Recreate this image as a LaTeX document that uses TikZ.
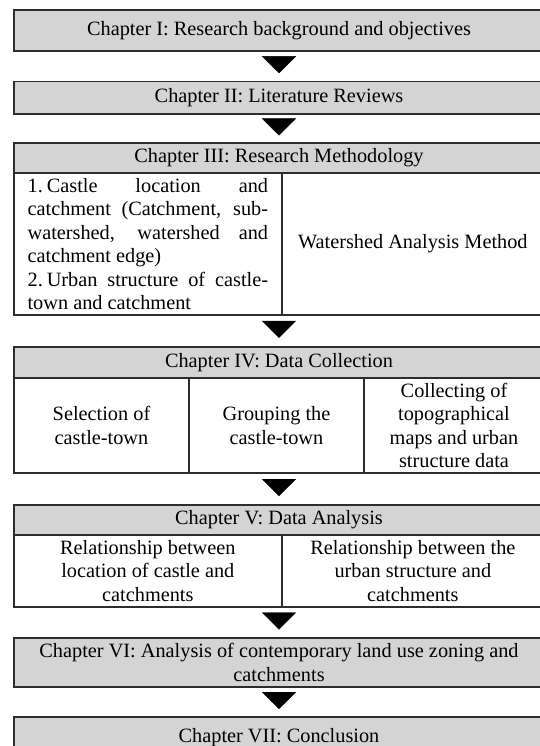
\documentclass[tikz,border=0pt]{standalone}
\usepackage{fontspec}
\setmainfont{Liberation Serif}
\usetikzlibrary{arrows.meta,decorations.markings}
\definecolor{headgray}{RGB}{212,212,212}
\definecolor{rulegray}{RGB}{45,45,45}
\definecolor{tipblack}{RGB}{28,28,28}
\newcommand{\boxfont}{\fontsize{20.3}{23.4}\selectfont}
\tikzset{
  head/.style={draw=rulegray, line width=1.6pt, fill=headgray, minimum width=530, minimum height=#1, inner sep=0pt, font=\boxfont},
  cell/.style={draw=rulegray, line width=1.6pt, fill=white, minimum height=#1, inner sep=0pt, font=\boxfont, align=center},
  down/.style={decorate, color=tipblack, decoration={markings, mark=at position 0.5 with {\arrow[xshift=7pt]{Triangle[width=34pt,length=17pt]}}}}
}
\begin{document}
\begin{tikzpicture}[x=1pt,y=-1pt]
\useasboundingbox[fill=white] (0,0) rectangle (540,746);
% chapter headers
\node[head=41] (ch1) at (279,30.5) {Chapter I: Research background and objectives};
\node[head=32.5] (ch2) at (279,97.75) {Chapter II: Literature Reviews};
\node[head=30] (ch3) at (279,158) {Chapter III: Research Methodology};
% methodology
\node[cell=142, minimum width=267.7, text width=240.5, align=justify] (c3l) at (147.85,244)
  {1.\hspace{4pt}Castle location and\linebreak catchment (Catchment, sub-\linebreak watershed, watershed and\linebreak catchment edge)\par
   2.\hspace{4pt}Urban structure of castle-\linebreak town and catchment};
\node[cell=142, minimum width=262.3] (c3r) at (412.85,244) {Watershed Analysis Method};
% data collection
\node[head=31.3] (ch4) at (279,362.35) {Chapter IV: Data Collection};
\node[cell=95, minimum width=175] (c4a) at (101.5,425.5) {Selection of\\castle-town};
\node[cell=95, minimum width=175] (c4b) at (276.5,425.5) {Grouping the\\castle-town};
\node[cell=95, minimum width=180] (c4c) at (454,425.5) {Collecting of\\topographical\\maps and urban\\structure data};
% data analysis
\node[head=30] (ch5) at (279,520) {Chapter V: Data Analysis};
\node[cell=72, minimum width=267.7] (c5l) at (147.85,571) {Relationship between\\location of castle and\\catchments};
\node[cell=72, minimum width=262.3] (c5r) at (412.85,571) {Relationship between the\\urban structure and\\catchments};
% land use, conclusion
\node[head=49, align=center] (ch6) at (279,662.5) {Chapter VI: Analysis of contemporary land use zoning and\\catchments};
\node[head=42] (ch7) at (279,738) {Chapter VII: Conclusion};
% arrows between the steps
\foreach \a/\b in {ch1/ch2,ch2/ch3,c3l/ch4,c4b/ch5,c5l/ch6,ch6/ch7}
  \path[down] (\b.north |- \a.south) -- (\b.north);
\end{tikzpicture}
\end{document}
